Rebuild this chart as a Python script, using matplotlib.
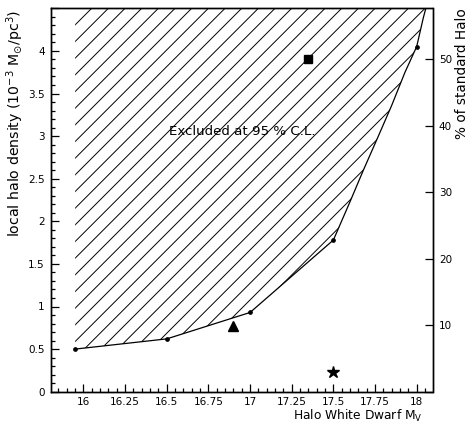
import matplotlib
matplotlib.use("Agg")
import matplotlib.pyplot as plt
from matplotlib.ticker import MultipleLocator, FuncFormatter, NullLocator

# ---- data ----
limit_mv = [15.95, 16.5, 17.0, 17.5, 17.6, 17.68, 17.77, 17.85, 17.93, 18.0, 18.04, 18.055]
limit_rho = [0.50, 0.62, 0.93, 1.78, 2.23, 2.60, 3.00, 3.36, 3.75, 4.05, 4.39, 4.50]
marked_idx = [0, 1, 2, 3, 9]

square_pt = (17.35, 3.905)
triangle_pt = (16.90, 0.775)
star_pt = (17.495, 0.234)

std_halo_factor = 12.82  # % of standard halo per 1e-3 Msun/pc^3
ymax = 4.5

DPI = 100
plt.rcParams['font.family'] = ['DejaVu Sans']
plt.rcParams['mathtext.fontset'] = 'dejavusans'
plt.rcParams['hatch.color'] = 'black'
plt.rcParams['hatch.linewidth'] = 0.7

fig = plt.figure(figsize=(470 / DPI, 426 / DPI), dpi=DPI)
ax = fig.add_axes([51 / 470, 1 - 391.7 / 426, (432.5 - 51) / 470, (391.7 - 8.3) / 426])

# hatched excluded region
poly_x = [limit_mv[0]] + limit_mv + [limit_mv[-1]]
poly_y = [ymax] + limit_rho + [ymax]
ax.fill(poly_x, poly_y, facecolor='none', edgecolor='black', linewidth=0, hatch='//')

ax.plot(limit_mv, limit_rho, color='black', lw=0.9, marker='o', markersize=2.4,
        markevery=marked_idx)

ax.plot(*square_pt, marker='s', color='black', markersize=6, linestyle='none')
ax.plot(*triangle_pt, marker='^', color='black', markersize=7, linestyle='none')
ax.plot(*star_pt, marker='*', color='black', markersize=9, linestyle='none')

ax.text(16.952, 3.05, 'Excluded at 95 % C.L.', ha='center', va='center', fontsize=9.6)

ax.set_xlim(15.805, 18.095)
ax.set_ylim(0, ymax)

ax.xaxis.set_major_locator(MultipleLocator(0.25))
ax.xaxis.set_minor_locator(MultipleLocator(0.05))
ax.yaxis.set_major_locator(MultipleLocator(0.5))
ax.yaxis.set_minor_locator(MultipleLocator(0.1))
ax.xaxis.set_major_formatter(FuncFormatter(lambda v, p: '%g' % round(v, 3)))
ax.yaxis.set_major_formatter(FuncFormatter(lambda v, p: '' if v > 4.25 else '%g' % round(v, 3)))

ax.tick_params(axis='both', which='both', direction='in', top=False, right=False,
               labelsize=7.5, width=0.9)
ax.tick_params(axis='x', which='major', length=6, pad=4)
ax.tick_params(axis='x', which='minor', length=3)
ax.tick_params(axis='y', which='major', length=5.5, pad=4.5)
ax.tick_params(axis='y', which='minor', length=3)

for s in ax.spines.values():
    s.set_linewidth(1.0)

ax2 = ax.twinx()
ax2.set_ylim(0, ymax * std_halo_factor)
ax2.yaxis.set_major_locator(MultipleLocator(10))
ax2.yaxis.set_minor_locator(NullLocator())
ax2.yaxis.set_major_formatter(FuncFormatter(lambda v, p: '' if v <= 0 else '%g' % v))
ax2.tick_params(axis='y', which='both', direction='in', labelsize=7.5, length=6,
                width=0.9, pad=4.5)
for s in ax2.spines.values():
    s.set_linewidth(1.0)

fig.text(15 / 470, 1 - 10 / 426, r'local halo density (10$^{-3}$ M$_{\odot}$/pc$^{3}$)',
         rotation=90, ha='center', va='top', fontsize=10.2)
fig.text(462 / 470, 1 - 8 / 426, '% of standard Halo',
         rotation=90, ha='center', va='top', fontsize=9.8)
fig.text(423 / 470, 1 - 424 / 426, r'Halo White Dwarf M$_{\mathregular{V}}$',
         ha='right', va='bottom', fontsize=8.8)

fig.savefig('out.png', dpi=DPI)
